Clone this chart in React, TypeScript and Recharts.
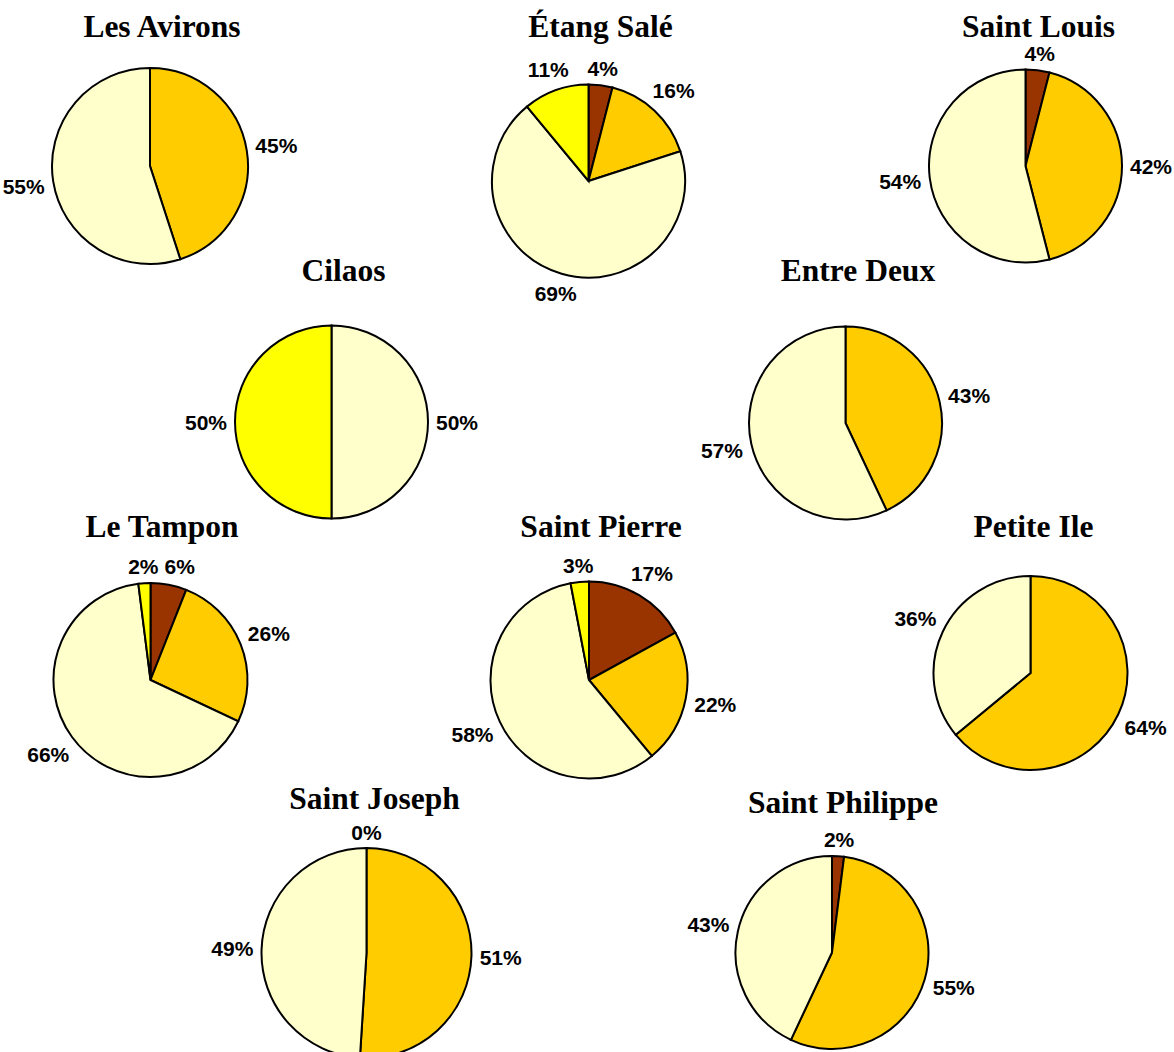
import { PieChart, Pie, Cell } from 'recharts'

const communes = [
  'Les Avirons',
  'Étang Salé',
  'Saint Louis',
  'Cilaos',
  'Entre Deux',
  'Le Tampon',
  'Saint Pierre',
  'Petite Ile',
  'Saint Joseph',
  'Saint Philippe',
]

// shares in %, one entry per commune; null = category not present
const shareBrown: (number | null)[] = [null, 4, 4, null, null, 6, 17, null, 0, 2]
const shareOrange: (number | null)[] = [45, 16, 42, null, 43, 26, 22, 64, 51, 55]
const sharePale: (number | null)[] = [55, 69, 54, 50, 57, 66, 58, 36, 49, 43]
const shareYellow: (number | null)[] = [null, 11, null, 50, null, 2, 3, null, null, null]

// drawn clockwise from 12 o'clock in this order
const series = [
  { key: 'brown', values: shareBrown, color: '#993300' },
  { key: 'orange', values: shareOrange, color: '#FFCC00' },
  { key: 'pale', values: sharePale, color: '#FFFFCC' },
  { key: 'yellow', values: shareYellow, color: '#FFFF00' },
]

// pie centre / radius and title anchor for each commune
const layout = [
  { cx: 150, cy: 166, r: 98, tx: 162, ty: 37 },
  { cx: 588.5, cy: 181, r: 96.5, tx: 600.5, ty: 37 },
  { cx: 1025.5, cy: 166, r: 96.5, tx: 1038.5, ty: 37 },
  { cx: 331.5, cy: 422, r: 96.5, tx: 343.5, ty: 281 },
  { cx: 845.5, cy: 423, r: 96.5, tx: 858, ty: 281 },
  { cx: 150.5, cy: 680, r: 97, tx: 162, ty: 537 },
  { cx: 589, cy: 680, r: 98.5, tx: 601, ty: 537 },
  { cx: 1030.5, cy: 673, r: 97, tx: 1033.5, ty: 537 },
  { cx: 366.5, cy: 953, r: 105, tx: 374.5, ty: 809 },
  { cx: 832, cy: 952.5, r: 96.5, tx: 843, ty: 813 },
]

const WIDTH = 1174
const HEIGHT = 1052
const LABEL_SIZE = 21
const LABEL_H = 15
const RADIAN = Math.PI / 180

const pieData = communes.map((name, i) =>
  series
    .filter((s) => s.values[i] !== null)
    .map((s) => ({ name: s.key, value: s.values[i] as number, color: s.color }))
)

const textWidth = (text: string) => ((text.length - 1) * 0.556 + 0.889) * LABEL_SIZE

// label centres: just outside the rim at the mid angle, pushed out by the
// text box, then nudged sideways when two labels of a pie collide
const labelPos = pieData.map((data, i) => {
  const { cx, cy, r } = layout[i]
  const total = data.reduce((sum, d) => sum + d.value, 0)
  let acc = 0
  const boxes = data.map((d) => {
    const mid = 90 - ((acc + d.value / 2) / total) * 360
    acc += d.value
    const w = textWidth(`${d.value}%`)
    const ux = Math.cos(mid * RADIAN)
    const uy = -Math.sin(mid * RADIAN)
    const dist = r + 8 + (Math.abs(ux) * w) / 2 + (Math.abs(uy) * LABEL_H) / 2
    return { x: cx + dist * ux, y: cy + dist * uy, w, dir: ux >= 0 ? 1 : -1 }
  })
  for (let a = boxes.length - 2; a >= 0; a--) {
    for (let b = a + 1; b < boxes.length; b++) {
      const p = boxes[a]
      const q = boxes[b]
      const overlapX = (p.w + q.w) / 2 + 6 - Math.abs(p.x - q.x)
      const overlapY = LABEL_H + 2 - Math.abs(p.y - q.y)
      if (overlapX > 0 && overlapY > 0) p.x += p.dir * overlapX
    }
  }
  return boxes
})

function makeLabel(pieIndex: number) {
  return (props: any) => {
    const pos = labelPos[pieIndex][props.index]
    return (
      <text
        x={pos.x}
        y={pos.y + 7.5}
        textAnchor="middle"
        fill="#000"
        fontFamily='Arial, "Liberation Sans", sans-serif'
        fontWeight="bold"
        fontSize={LABEL_SIZE}
      >
        {`${props.value}%`}
      </text>
    )
  }
}

export default function App() {
  return (
    <div style={{ position: 'absolute', left: 0, top: 0, width: WIDTH, height: HEIGHT, background: '#fff' }}>
      <PieChart width={WIDTH} height={HEIGHT} margin={{ top: 0, right: 0, bottom: 0, left: 0 }}>
        {pieData.map((data, i) => (
          <Pie
            key={communes[i]}
            data={data}
            dataKey="value"
            nameKey="name"
            cx={layout[i].cx}
            cy={layout[i].cy}
            outerRadius={layout[i].r}
            startAngle={90}
            endAngle={-270}
            stroke="#000"
            strokeWidth={2}
            labelLine={false}
            label={makeLabel(i)}
            isAnimationActive={false}
          >
            {data.map((d) => (
              <Cell key={d.name} fill={d.color} />
            ))}
          </Pie>
        ))}
      </PieChart>
      <svg
        width={WIDTH}
        height={HEIGHT}
        style={{ position: 'absolute', left: 0, top: 0, pointerEvents: 'none' }}
      >
        {communes.map((name, i) => (
          <text
            key={name}
            x={layout[i].tx}
            y={layout[i].ty}
            textAnchor="middle"
            fontFamily='"Times New Roman", "Liberation Serif", serif'
            fontWeight="bold"
            fontSize={31.5}
            fill="#000"
          >
            {name}
          </text>
        ))}
      </svg>
    </div>
  )
}
